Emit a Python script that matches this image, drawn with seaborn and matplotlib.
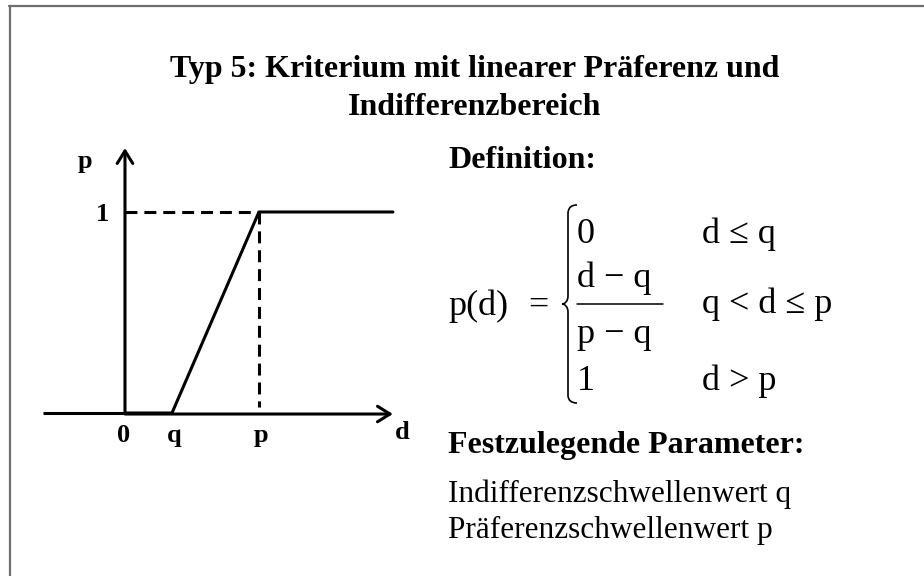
import numpy as np
import pandas as pd
import matplotlib.pyplot as plt
import seaborn as sns
from matplotlib.path import Path
from matplotlib.patches import PathPatch

sns.set_theme(style="white")
plt.rcParams['font.family'] = ['Liberation Serif', 'DejaVu Serif']
plt.rcParams['text.color'] = 'black'
plt.rcParams['lines.scale_dashes'] = False

# Preferenzfunktion Typ 5 (q = Indifferenz-, p = Praeferenzschwelle)
q_val = 1.0
p_val = 2.85
d_end = 5.7
d_start = -1.75
d_pts = [0.0, q_val, p_val, d_end]
p_pts = [0.0, 0.0, 1.0, 1.0]
tick_labels = ["0", "q", "p"]

title = "Typ 5: Kriterium mit linearer Präferenz und\nIndifferenzbereich"
cond_left = ["0", None, "1"]
cond_right = ["d ≤ q", "q < d ≤ p", "d > p"]
params = ["Indifferenzschwellenwert q", "Präferenzschwellenwert p"]

fig = plt.figure(figsize=(9.24, 5.76), dpi=100)

# overlay in Pixelkoordinaten fuer Text und Rahmen
bg = fig.add_axes([0, 0, 1, 1])
bg.set_xlim(0, 924)
bg.set_ylim(576, 0)
bg.axis("off")
bg.plot([9, 924], [6, 6], color="#6e6e6e", lw=1.6)
bg.plot([9.5, 9.5], [6, 576], color="#6e6e6e", lw=1.6)

# Diagramm
ax = fig.add_axes([30 / 924, 126 / 576, 390 / 924, 310 / 576])
ax.set_xlim(-2.021, 6.277)
ax.set_ylim(-0.184, 1.358)
ax.axis("off")

lw = 2.2
df = pd.DataFrame({"d": d_pts, "p": p_pts})
ax.plot([d_start, 0], [0, 0], color="black", lw=lw, solid_capstyle="butt")
sns.lineplot(data=df, x="d", y="p", color="black", lw=lw, ax=ax, sort=False)
ax.annotate("", xy=(d_end, -0.005), xytext=(0, -0.005),
            arrowprops=dict(arrowstyle="->,head_length=0.45,head_width=0.28",
                            lw=lw, color="black", mutation_scale=20,
                            shrinkA=0, shrinkB=0))
ax.annotate("", xy=(0, 1.318), xytext=(0, 0),
            arrowprops=dict(arrowstyle="->,head_length=0.45,head_width=0.28",
                            lw=lw, color="black", mutation_scale=20,
                            shrinkA=0, shrinkB=0))
ax.plot([0, p_val], [1, 1], color="black", lw=lw, ls=(0, (8.6, 5)))
ax.plot([p_val, p_val], [1, 0.03], color="black", lw=lw, ls=(0, (8.6, 5)))

lab = dict(fontsize=19, fontweight="bold", ha="center", va="center")
for xv, t in zip([0, q_val, p_val], tick_labels):
    ax.text(xv - (0.04 if t == "0" else -0.05), -0.11, t, **lab)
ax.text(5.9, -0.095, "d", **lab)
ax.text(-0.85, 1.25, "p", **lab)
ax.text(-0.47, 0.985, "1", **lab)

# Titel
bg.text(475, 77, title.split("\n")[0], fontsize=23, fontweight="bold",
        ha="center", va="baseline")
bg.text(475, 115, title.split("\n")[1], fontsize=23, fontweight="bold",
        ha="center", va="baseline")

# Definition
bg.text(448, 168, "Definition:", fontsize=23, fontweight="bold", va="baseline")
fs = 26
bg.text(448, 315, "p(d)", fontsize=fs, va="baseline")
bg.text(549, 315, "=", fontsize=fs, va="baseline", ha="right")
bg.text(577, 243, cond_left[0], fontsize=fs, va="baseline")
bg.text(577, 287, "d − q", fontsize=fs, va="baseline")
bg.plot([577, 663], [304, 304], color="black", lw=1.1)
bg.text(577, 343, "p − q", fontsize=fs, va="baseline")
bg.text(577, 390, cond_left[2], fontsize=fs, va="baseline")
for yb, t in zip([243, 313, 390], cond_right):
    bg.text(702, yb, t, fontsize=fs, va="baseline")

verts = [(577, 205), (571, 205), (568, 208), (568, 214),
         (568, 296), (568, 301), (565, 304), (562, 304),
         (565, 304), (568, 307), (568, 312),
         (568, 395), (568, 400), (571, 403), (577, 403)]
codes = [Path.MOVETO, Path.CURVE4, Path.CURVE4, Path.CURVE4,
         Path.LINETO, Path.CURVE4, Path.CURVE4, Path.CURVE4,
         Path.CURVE4, Path.CURVE4, Path.CURVE4,
         Path.LINETO, Path.CURVE4, Path.CURVE4, Path.CURVE4]
bg.add_patch(PathPatch(Path(verts, codes), fill=False, lw=1.2, color="black"))

# Parameter
bg.text(448, 453, "Festzulegende Parameter:", fontsize=23, fontweight="bold",
        va="baseline")
for yb, t in zip([502, 538], params):
    bg.text(448, yb, t, fontsize=22.5, va="baseline")

fig.savefig("out.png", dpi=100)
